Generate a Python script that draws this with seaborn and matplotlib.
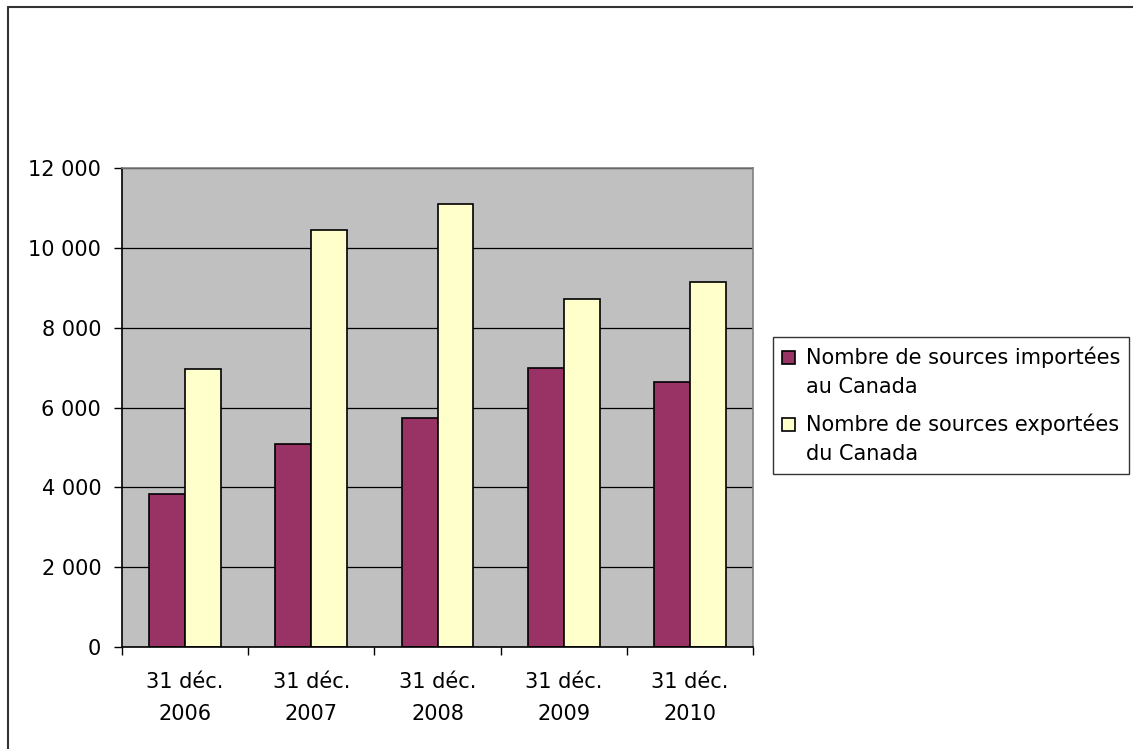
import matplotlib
matplotlib.use("Agg")
import matplotlib.pyplot as plt
import matplotlib.ticker as mticker
from matplotlib.lines import Line2D
from matplotlib.patches import Rectangle
from matplotlib.legend_handler import HandlerPatch
import seaborn as sns
import pandas as pd

# data
dates = ["31 déc.\n2006", "31 déc.\n2007", "31 déc.\n2008", "31 déc.\n2009", "31 déc.\n2010"]
imported = [3840, 5085, 5735, 7000, 6630]
exported = [6960, 10450, 11110, 8730, 9150]
series = ["Nombre de sources importées\nau Canada", "Nombre de sources exportées\ndu Canada"]
colors = ["#993366", "#FFFFCC"]

df = pd.DataFrame({
    "date": dates * 2,
    "valeur": imported + exported,
    "serie": [series[0]] * len(dates) + [series[1]] * len(dates),
})


class TopSquare(HandlerPatch):
    # legend square next to the first line of a two-line label
    def create_artists(self, legend, orig_handle, xdescent, ydescent, width, height, fontsize, trans):
        s = 0.62 * fontsize
        p = Rectangle((-xdescent, -ydescent + (height - s) / 2 + 0.72 * fontsize), s, s,
                      facecolor=orig_handle.get_facecolor(), edgecolor="black",
                      linewidth=1.2, transform=trans)
        return [p]


sns.set_style("white")
plt.rcParams["font.family"] = ["DejaVu Sans"]
plt.rcParams["text.color"] = "black"
plt.rcParams["xtick.color"] = "black"
plt.rcParams["ytick.color"] = "black"

fs = 15

fig = plt.figure(figsize=(11.33, 7.49), dpi=100)
ax = fig.add_axes([122 / 1133, 1 - 647 / 749, (753 - 122) / 1133, (647 - 168) / 749])

sns.barplot(data=df, x="date", y="valeur", hue="serie", palette=colors,
            width=0.57, gap=0, edgecolor="black", linewidth=1.2, ax=ax,
            saturation=1)

ax.set_facecolor("#C0C0C0")
ax.set_ylim(0, 12000)
ax.set_xlim(-0.5, len(dates) - 0.5)
ax.set_yticks(range(0, 12001, 2000))
ax.yaxis.set_major_formatter(mticker.FuncFormatter(lambda v, p: f"{int(v):,}".replace(",", " ")))
ax.grid(axis="y", color="black", linewidth=0.9)
ax.set_axisbelow(True)
ax.set_xlabel("")
ax.set_ylabel("")

# ticks between categories, labels centered
ax.set_xticks(range(len(dates)))
ax.set_xticklabels(dates, linespacing=1.75)
ax.set_xticks([i - 0.5 for i in range(len(dates) + 1)], minor=True)
ax.tick_params(axis="x", which="major", length=0, pad=18, labelsize=fs)
ax.tick_params(axis="x", which="minor", length=6, width=1, color="black", direction="out")
ax.tick_params(axis="y", length=6, width=1, color="black", direction="out", labelsize=fs, pad=9)
ax.tick_params(left=True, bottom=True, which="both")
ax.tick_params(axis="x", which="major", bottom=False)

for side in ["top", "right"]:
    ax.spines[side].set_color("#808080")
    ax.spines[side].set_linewidth(1.2)
for side in ["left", "bottom"]:
    ax.spines[side].set_color("black")
    ax.spines[side].set_linewidth(1.2)

ax.get_legend().remove()
handles = [Rectangle((0, 0), 1, 1, facecolor=c, edgecolor="black", linewidth=1.2) for c in colors]
leg = fig.legend(handles, series, loc="upper left",
                 bbox_to_anchor=(773 / 1133, 1 - 337 / 749),
                 fontsize=fs, frameon=True, fancybox=False, shadow=False,
                 handlelength=0.62, handleheight=0.62, handletextpad=0.5,
                 borderpad=0.45, labelspacing=0.75, borderaxespad=0,
                 handler_map={Rectangle: TopSquare()})
for t in leg.get_texts():
    t.set_linespacing(1.6)
leg.get_frame().set_edgecolor("black")
leg.get_frame().set_linewidth(1.0)

# outer frame (top and left edges only visible)
fig.add_artist(Line2D([8 / 1133, 8 / 1133], [0, 1 - 7 / 749], color="#333333", linewidth=1.5))
fig.add_artist(Line2D([8 / 1133, 1], [1 - 7 / 749, 1 - 7 / 749], color="#333333", linewidth=1.5))

fig.savefig("out.png", dpi=100, facecolor="white")
